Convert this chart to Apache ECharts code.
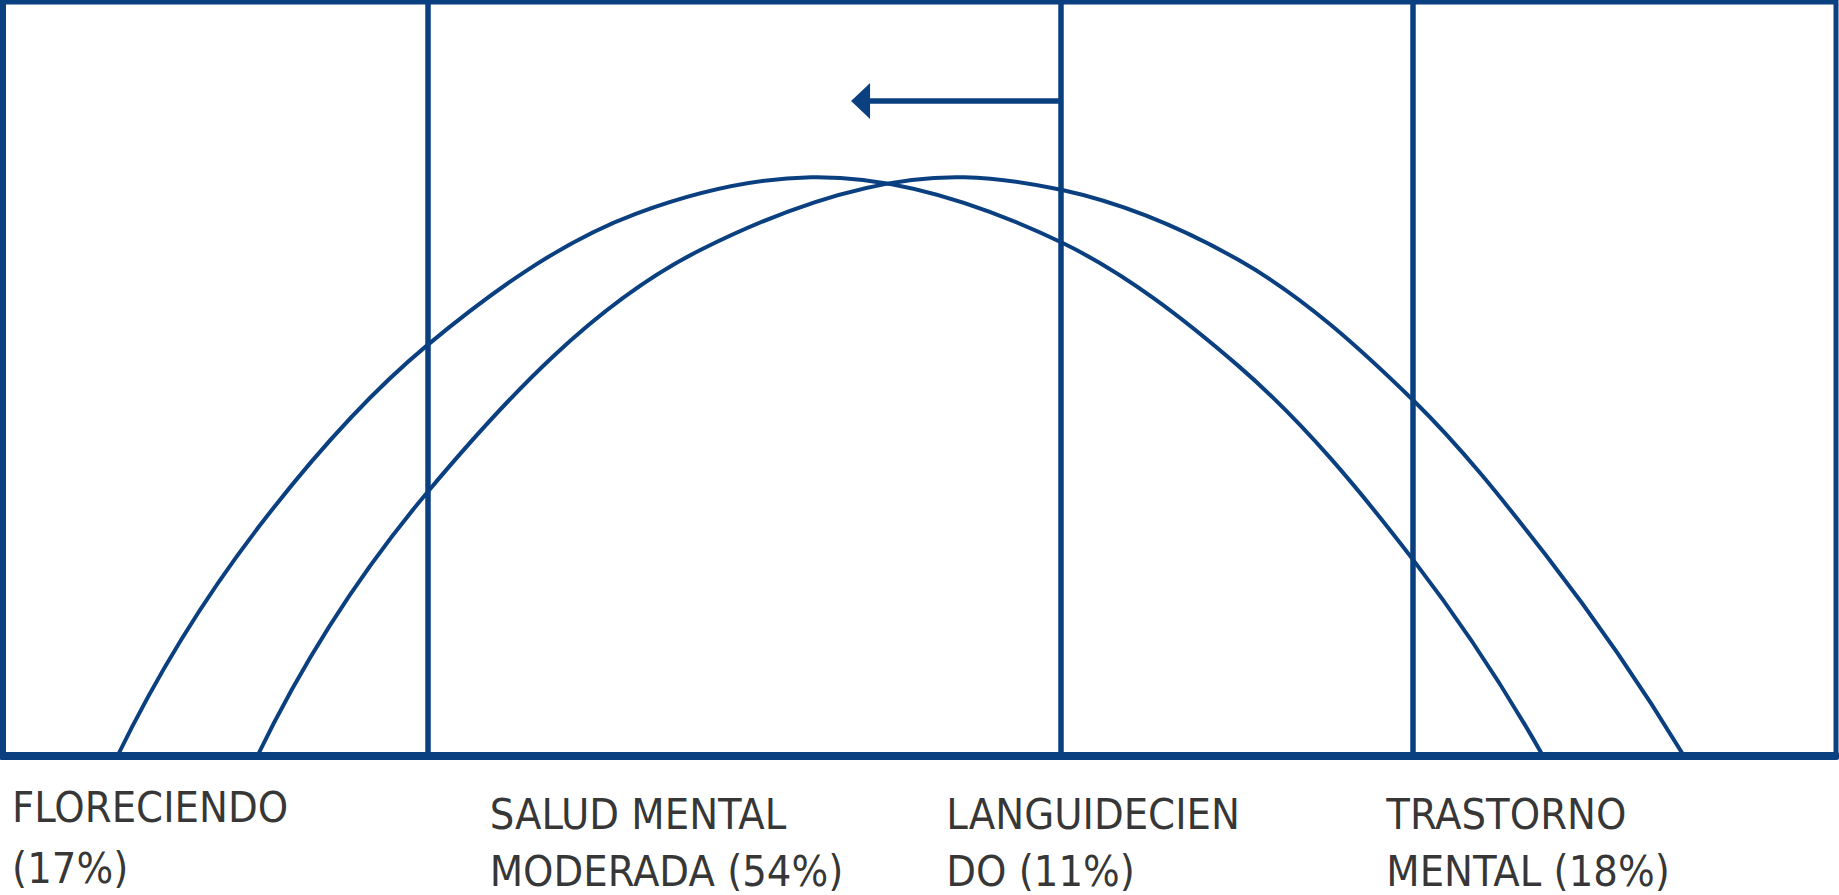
<!DOCTYPE html>
<html>
<head>
<meta charset="utf-8">
<script src="https://cdn.jsdelivr.net/npm/echarts@6/dist/echarts.min.js"></script>
<style>
    html, body, #main {
        width: 100%;
        height: 100%;
        margin: 0;
        background: #fff;
    }
</style>
</head>
<body>
<div id="main"></div>
<script>
// x and y in percent of the frame: x 0 = left edge, 100 = right edge; y 0 = bottom, 100 = top
var curveLeft = [
    [6.27, 0], [14.01, 30.50], [23.14, 54.43], [34.57, 71.94], [44.11, 76.76],
    [57.74, 68.13], [67.45, 51.64], [76.94, 26.01], [84.02, 0]
];
var curveRight = [
    [13.90, 0], [23.14, 34.89], [38.06, 67.11], [52.45, 76.76], [57.74, 75.09],
    [67.45, 65.74], [76.94, 47.18], [84.13, 26.79], [91.71, 0]
];
var dividers = [23.17, 57.74, 76.94];
var arrowFrom = [57.74, 86.87];
var arrowTo = [46.8, 86.87];
var groupNames = [
    'FLORECIENDO\n(17%)',
    'SALUD MENTAL\nMODERADA (54%)',
    'LANGUIDECIEN\nDO (11%)',
    'TRASTORNO\nMENTAL (18%)'
];
var groupX = [0.55, 26.6, 51.5, 75.5];

var blue = '#0a3f80';
var chart = echarts.init(document.getElementById('main'), null, {renderer: 'svg'});

// cubic bezier through pixel points; tangents from the parabola through each
// point and its neighbours (chord-length spacing), parabolic end conditions
function smoothPath(pts) {
    var n = pts.length;
    var h = [];
    for (var i = 0; i < n - 1; i++) {
        h.push(Math.hypot(pts[i + 1][0] - pts[i][0], pts[i + 1][1] - pts[i][1]));
    }
    var t = [];
    for (i = 1; i < n - 1; i++) {
        var h0 = h[i - 1], h1 = h[i];
        t[i] = [0, 1].map(function (k) {
            var d0 = (pts[i][k] - pts[i - 1][k]) / h0;
            var d1 = (pts[i + 1][k] - pts[i][k]) / h1;
            return (h1 * d0 + h0 * d1) / (h0 + h1);
        });
    }
    t[0] = [0, 1].map(function (k) {
        return 2 * (pts[1][k] - pts[0][k]) / h[0] - t[1][k];
    });
    t[n - 1] = [0, 1].map(function (k) {
        return 2 * (pts[n - 1][k] - pts[n - 2][k]) / h[n - 2] - t[n - 2][k];
    });
    var d = 'M' + pts[0][0] + ' ' + pts[0][1];
    for (i = 0; i < n - 1; i++) {
        var a = pts[i], b = pts[i + 1], s = h[i] / 3;
        d += ' C' + (a[0] + t[i][0] * s) + ' ' + (a[1] + t[i][1] * s) +
            ' ' + (b[0] - t[i + 1][0] * s) + ' ' + (b[1] - t[i + 1][1] * s) +
            ' ' + b[0] + ' ' + b[1];
    }
    return d;
}

function curveSeries(points) {
    return {
        type: 'custom',
        data: points,
        silent: true,
        clip: false,
        renderItem: function (params, api) {
            if (params.dataIndex !== 0) {
                return;
            }
            var px = points.map(function (p) {
                return api.coord(p);
            });
            return {
                type: 'path',
                shape: {pathData: smoothPath(px)},
                style: {fill: 'none', stroke: blue, lineWidth: 4}
            };
        }
    };
}

var labelData = groupNames.map(function (name, i) {
    var item = {name: name, value: [groupX[i], 0]};
    if (i === 0) {
        item.label = {position: [0, 20.5], lineHeight: 61};
    }
    return item;
});

var markData = dividers.map(function (x) {
    return {xAxis: x};
});
markData.push([
    {coord: arrowFrom, symbol: 'none'},
    {coord: arrowTo, symbol: 'triangle', symbolSize: [36, 19]}
]);

chart.setOption({
    animation: false,
    grid: {
        left: 2.5,
        right: 3,
        top: 2,
        bottom: 139,
        show: true,
        borderColor: blue,
        borderWidth: 5,
        backgroundColor: '#fff'
    },
    xAxis: {
        type: 'value',
        min: 0,
        max: 100,
        axisLine: {show: true, lineStyle: {color: blue, width: 8}},
        axisTick: {show: false},
        axisLabel: {show: false},
        splitLine: {show: false}
    },
    yAxis: {
        type: 'value',
        min: 0,
        max: 100,
        position: 'right',
        axisLine: {show: true, lineStyle: {color: blue, width: 7}},
        axisTick: {show: false},
        axisLabel: {show: false},
        splitLine: {show: false}
    },
    series: [
        curveSeries(curveLeft),
        curveSeries(curveRight),
        {
            type: 'line',
            data: [],
            silent: true,
            markLine: {
                silent: true,
                symbol: 'none',
                label: {show: false},
                lineStyle: {color: blue, width: 5.5, type: 'solid'},
                emphasis: {disabled: true},
                data: markData
            }
        },
        {
            type: 'scatter',
            data: labelData,
            symbolSize: 1,
            silent: true,
            itemStyle: {color: 'rgba(0,0,0,0)'},
            label: {
                show: true,
                formatter: '{b}',
                position: [0, 29.5],
                align: 'left',
                verticalAlign: 'top',
                color: '#000',
                fontFamily: '"Liberation Sans Narrow", "DejaVu Sans Condensed", sans-serif',
                fontSize: 43,
                lineHeight: 57
            }
        }
    ]
});
</script>
</body>
</html>
